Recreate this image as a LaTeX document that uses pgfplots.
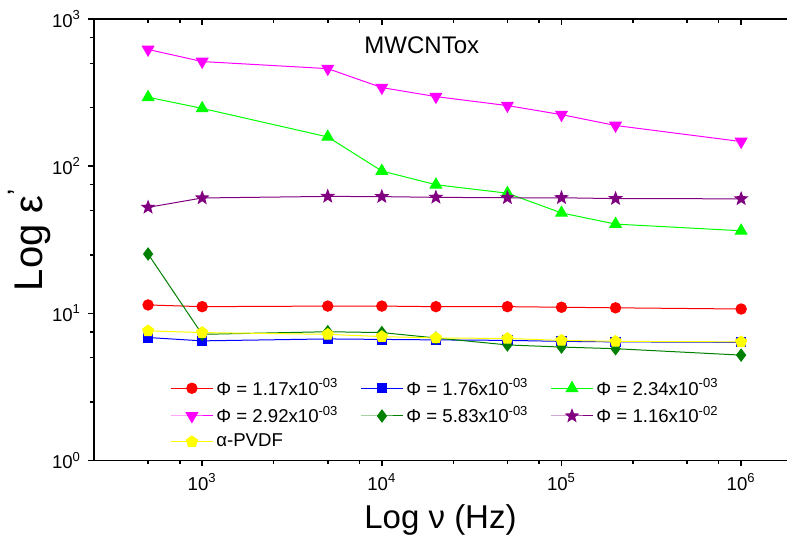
\documentclass[border=0pt]{standalone}
\usepackage{fontspec}
\setmainfont{Liberation Sans}
\usepackage{pgfplots}
\pgfplotsset{compat=1.18}
\usetikzlibrary{plotmarks}

\definecolor{dkgreen}{RGB}{0,128,0}
\definecolor{purp}{RGB}{128,0,128}
\definecolor{mag}{RGB}{255,0,255}
\definecolor{grn}{RGB}{0,255,0}
\definecolor{yel}{RGB}{255,255,0}

% filled five-pointed star
\pgfdeclareplotmark{fstar}{%
  \pgfpathmoveto{\pgfpointpolar{90}{\pgfplotmarksize}}%
  \pgfpathlineto{\pgfpointpolar{126}{0.42\pgfplotmarksize}}%
  \pgfpathlineto{\pgfpointpolar{162}{\pgfplotmarksize}}%
  \pgfpathlineto{\pgfpointpolar{198}{0.42\pgfplotmarksize}}%
  \pgfpathlineto{\pgfpointpolar{234}{\pgfplotmarksize}}%
  \pgfpathlineto{\pgfpointpolar{270}{0.42\pgfplotmarksize}}%
  \pgfpathlineto{\pgfpointpolar{306}{\pgfplotmarksize}}%
  \pgfpathlineto{\pgfpointpolar{342}{0.42\pgfplotmarksize}}%
  \pgfpathlineto{\pgfpointpolar{18}{\pgfplotmarksize}}%
  \pgfpathlineto{\pgfpointpolar{54}{0.42\pgfplotmarksize}}%
  \pgfpathclose
  \pgfusepathqfillstroke
}

\pgfplotsset{
  ser/.style={color=#1, line width=0.5pt, mark options={solid, fill=#1, draw=#1}, mark size=2.6pt},
}

\begin{document}
\begin{tikzpicture}
\begin{axis}[
  name=main,
  scale only axis, width=346.5pt, height=220.75pt,
  xmode=log, ymode=log,
  xmin=250, xmax=1.8e6, ymin=1, ymax=1000,
  axis line style={-, line width=0.9pt},
  xtick={1e3,1e4,1e5,1e6},
  minor xtick={500,750,2500,5000,7500,25000,50000,75000,250000,500000,750000},
  major tick length=3pt, minor tick length=1.8pt,
  every tick/.style={black, line width=0.8pt},
  axis x line*=bottom, axis y line*=left,
  tick align=outside,
  xticklabels={10\textsuperscript{3},10\textsuperscript{4},10\textsuperscript{5},10\textsuperscript{6}},
  ytick={1,10,100,1000},
  yticklabels={10\textsuperscript{0},10\textsuperscript{1},10\textsuperscript{2},10\textsuperscript{3}},
  minor ytick={2.5,5,7.5,25,50,75,250,500,750},
  tick label style={font=\fontsize{9.3}{10}\selectfont},
  xlabel={Log ν (Hz)}, ylabel={Log ε\textsuperscript{'}},
  xlabel style={font=\fontsize{16.5}{19}\selectfont},
  ylabel style={font=\fontsize{20}{22}\selectfont, yshift=-6.5pt},
  clip=false,
  legend columns=3,
  legend cell align=left,
  legend style={at={(rel axis cs:0.101,0.205)}, anchor=north west, draw=none, fill=none,
    font=\fontsize{9.3}{10}\selectfont, row sep=0pt,
    nodes={inner xsep=1.5pt},
    /tikz/every odd column/.append style={column sep=0pt},
    /tikz/every even column/.append style={column sep=9.5pt}},
  legend image code/.code={\draw[mark repeat=2, mark phase=2] plot coordinates {(0pt,0pt) (10.5pt,0pt) (21pt,0pt)};},
]
\addplot[ser=red, mark=*] coordinates {
  (500,11.4) (1000,11.1) (5000,11.2) (10000,11.2) (20000,11.1) (50000,11.1) (100000,11.0) (200000,10.9) (1000000,10.7)};
\addlegendentry{Φ = 1.17x10\textsuperscript{-03}}
\addplot[ser=blue, mark=square*, mark size=2.3pt] coordinates {
  (500,6.85) (1000,6.5) (5000,6.7) (10000,6.65) (20000,6.6) (50000,6.55) (100000,6.45) (200000,6.4) (1000000,6.35)};
\addlegendentry{Φ = 1.76x10\textsuperscript{-03}}
\addplot[ser=grn, mark=triangle*, mark size=3.3pt] coordinates {
  (500,294) (1000,247) (5000,158) (10000,92.7) (20000,74.8) (50000,65.5) (100000,48.1) (200000,40.4) (1000000,36.4)};
\addlegendentry{Φ = 2.34x10\textsuperscript{-03}}
\addplot[ser=mag, mark=triangle*, mark size=3.3pt, mark options={rotate=180}] coordinates {
  (500,621) (1000,514) (5000,460) (10000,342) (20000,297) (50000,258) (100000,224) (200000,189) (1000000,147)};
\addlegendentry{Φ = 2.92x10\textsuperscript{-03}}
\addplot[ser=dkgreen, mark=diamond*, mark size=3pt] coordinates {
  (500,25.3) (1000,7.2) (5000,7.5) (10000,7.4) (20000,6.8) (50000,6.1) (100000,5.9) (200000,5.75) (1000000,5.2)};
\addlegendentry{Φ = 5.83x10\textsuperscript{-03}}
\addplot[ser=purp, mark=fstar, mark size=3.2pt] coordinates {
  (500,52.5) (1000,60.8) (5000,62.3) (10000,62.1) (20000,61.4) (50000,61) (100000,61) (200000,60.2) (1000000,60)};
\addlegendentry{Φ = 1.16x10\textsuperscript{-02}}
\addplot[ser=yel, mark=pentagon*, mark size=2.9pt] coordinates {
  (500,7.6) (1000,7.4) (5000,7.2) (10000,6.95) (20000,6.8) (50000,6.75) (100000,6.55) (200000,6.45) (1000000,6.4)};
\addlegendentry{α-PVDF}
\node[font=\fontsize{12}{14}\selectfont] at (rel axis cs:0.473,0.941) {MWCNTox};
\end{axis}
\begin{axis}[
  scale only axis, width=346.5pt, height=220.75pt,
  xmode=log, ymode=log,
  xmin=250, xmax=1.8e6, ymin=1, ymax=1000,
  axis line style={-, line width=0.9pt},
  xtick={1e3,1e4,1e5,1e6},
  minor xtick={500,750,2500,5000,7500,25000,50000,75000,250000,500000,750000},
  major tick length=3pt, minor tick length=1.8pt,
  every tick/.style={black, line width=0.8pt},
  axis x line*=top, axis y line=none,
  tick align=inside,
  xticklabels={},
]
\end{axis}
\pgfresetboundingbox
\path[use as bounding box] ([xshift=-47pt,yshift=-44.25pt]main.south west) rectangle ([yshift=9.5pt]main.north east);
\end{tikzpicture}
\end{document}
